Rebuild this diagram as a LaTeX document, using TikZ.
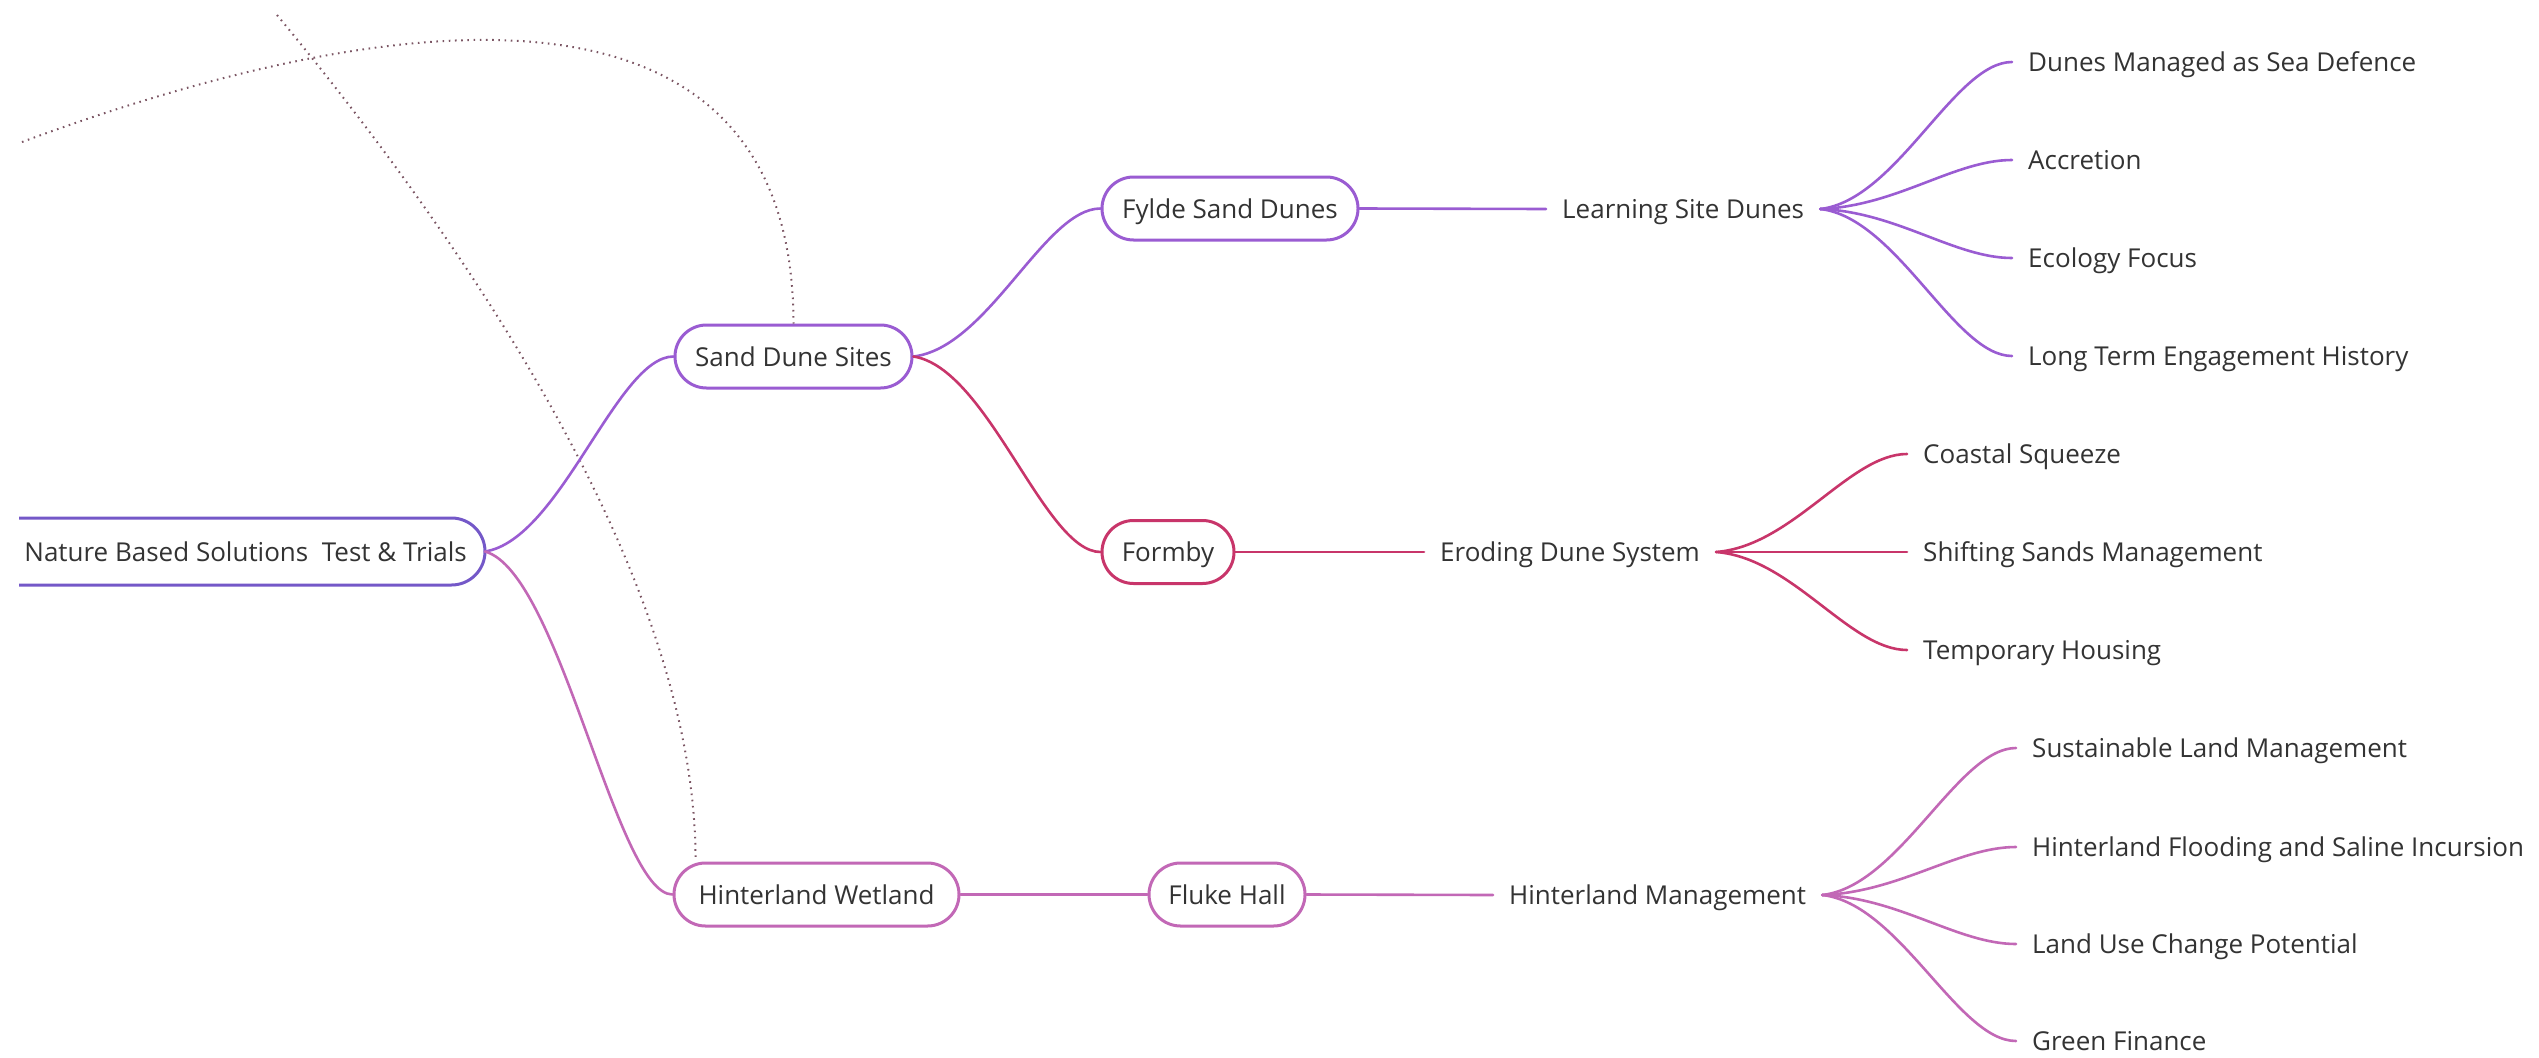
\documentclass[tikz,border=0pt]{standalone}
\usepackage{fontspec}
\setmainfont{Open Sans}
\usetikzlibrary{calc}
\definecolor{ink}{HTML}{333333}
\definecolor{rootc}{HTML}{7458C8}
\definecolor{purp}{HTML}{9A5CD2}
\definecolor{crim}{HTML}{C8356A}
\definecolor{orch}{HTML}{C268B6}
\definecolor{dotc}{HTML}{7B5563}
\begin{document}
\begin{tikzpicture}[x=1pt,y=-1pt,
  font=\fontsize{26pt}{30pt}\selectfont, text=ink,
  box/.style={draw, line width=3pt, fill=white, rounded corners=31.5pt,
    minimum height=63pt, inner xsep=0pt, text height=25pt, text depth=6pt},
  topic/.style={inner xsep=16pt, inner ysep=0pt, text height=25pt, text depth=6pt, anchor=west},
  wire/.style={line width=2.6pt, line cap=round},
  dotline/.style={dotc, line width=2pt, dash pattern=on 1.6pt off 4.6pt},
  branch/.style={to path={let \p1=(\tikztostart), \p2=(\tikztotarget) in
    .. controls ({\x1+0.4*(\x2-\x1)},{\y1+0.06*(\y2-\y1)}) and ({\x1+0.7*(\x2-\x1)},\y2) .. (\tikztotarget)}}]
\useasboundingbox (0,0) rectangle (2539,1057);

% central topic, its frame open to the left
\node[topic, anchor=east, inner xsep=18pt] (root) at (485,551.5)
  {Nature Based Solutions\ \ Test \& Trials};
\draw[rootc, line width=3pt]
  (19,518) -- (451.5,518) arc[start angle=90, end angle=-90, radius=33.5pt]
  -- (19,585);

% main branches
\node[box, draw=purp, minimum width=237pt] (sds) at (793.5,356.5) {Sand Dune Sites};
\node[box, draw=orch, minimum width=285pt] (hw) at (816.5,894.5) {Hinterland Wetland};
\node[box, draw=purp, minimum width=256pt] (fylde) at (1230,208.5) {Fylde Sand Dunes};
\node[box, draw=crim, minimum width=132pt] (formby) at (1168,552) {Formby};
\node[box, draw=orch, minimum width=156pt] (fluke) at (1227,894.5) {Fluke Hall};

% relationship lines
\coordinate (r1) at (22,142);
\coordinate (r2) at (277,15);
\draw[dotline] (r1) .. controls (422,-6) and (793,-30) .. (sds.north);
\draw[dotline] (r2) .. controls (430,200) and (697,560) .. ($(hw.north west)+(23,0)$);

% second level topics
\node[topic] (lsd) at (1546,209) {Learning Site Dunes};
\node[topic] (eds) at (1424,552) {Eroding Dune System};
\node[topic] (hm) at (1493,895) {Hinterland Management};

% leaves
\node[topic] (f1) at (2012,62) {Dunes Managed as Sea Defence};
\node[topic] (f2) at (2012,160) {Accretion};
\node[topic] (f3) at (2012,258) {Ecology Focus};
\node[topic] (f4) at (2012,356) {Long Term Engagement History};
\node[topic] (e1) at (1907,454) {Coastal Squeeze};
\node[topic] (e2) at (1907,552) {Shifting Sands Management};
\node[topic] (e3) at (1907,650) {Temporary Housing};
\node[topic] (h1) at (2016,748) {Sustainable Land Management};
\node[topic] (h2) at (2016,847) {Hinterland Flooding and Saline Incursion};
\node[topic] (h3) at (2016,944) {Land Use Change Potential};
\node[topic] (h4) at (2016,1041) {Green Finance};

% connectors
\draw[wire, purp] (root.east) to[branch] (sds.west);
\draw[wire, orch] (root.east) to[branch] (hw.west);
\draw[wire, purp] (sds.east) to[branch] (fylde.west);
\draw[wire, crim] (sds.east) to[branch] (formby.west);
\draw[wire, purp] (fylde.east) -- (lsd.west);
\draw[wire, crim] (formby.east) -- (eds.west);
\draw[wire, orch] (hw.east) -- (fluke.west);
\draw[wire, orch] (fluke.east) -- (hm.west);
\foreach \leaf in {f1,f2,f3,f4} \draw[wire, purp] (lsd.east) to[branch] (\leaf.west);
\foreach \leaf in {e1,e2,e3} \draw[wire, crim] (eds.east) to[branch] (\leaf.west);
\foreach \leaf in {h1,h2,h3,h4} \draw[wire, orch] (hm.east) to[branch] (\leaf.west);
\end{tikzpicture}
\end{document}
